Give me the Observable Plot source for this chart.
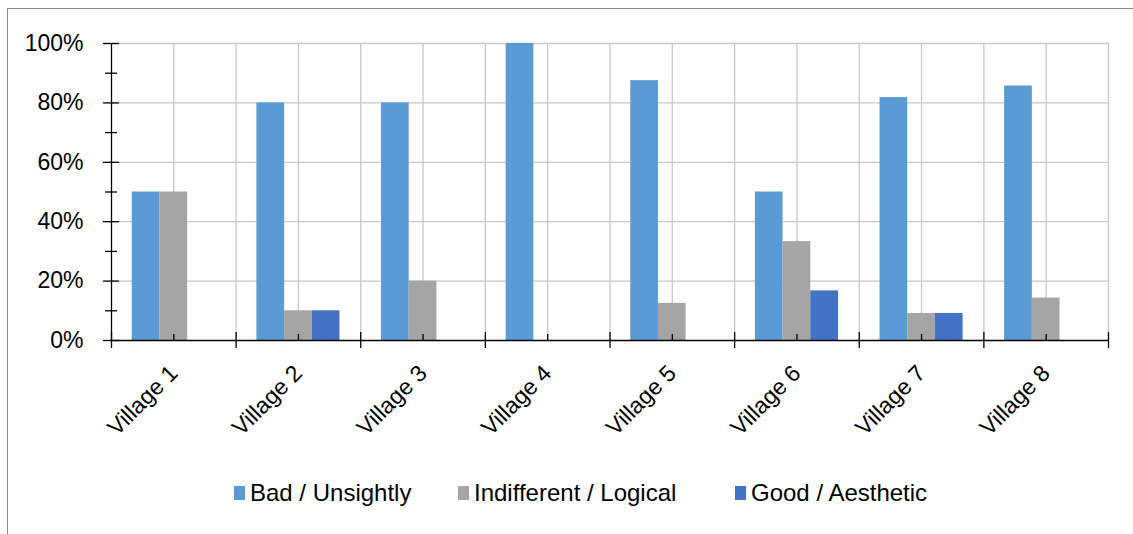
<!DOCTYPE html>
<html>
<head>
<meta charset="utf-8">
<script src="https://cdn.jsdelivr.net/npm/d3@7"></script>
<script src="https://cdn.jsdelivr.net/npm/@observablehq/plot@0.6"></script>
<style>
  html, body { margin: 0; padding: 0; background: #fff; }
  #wrap { position: relative; width: 1133px; height: 534px; overflow: hidden; font-family: "Liberation Sans", Arial, sans-serif; color: #000; }
  #border { position: absolute; left: 7px; top: 8px; width: 1300px; height: 700px; border-top: 1.5px solid #8e8e8e; border-left: 1.5px solid #8e8e8e; box-sizing: border-box; }
  #chart { position: absolute; left: 0; top: 0; }
  #legend { position: absolute; left: 0; top: 478px; width: 1133px; height: 30px; font-size: 24px; }
  .item { position: absolute; top: 0; display: flex; align-items: center; height: 30px; white-space: nowrap; }
  .sw { width: 11px; height: 14px; margin-right: 5px; }
</style>
</head>
<body>
<div id="wrap">
  <div id="border"></div>
  <div id="chart"></div>
  <div id="legend"></div>
</div>
<script>
// ---- data ----
const villages = ["Village 1", "Village 2", "Village 3", "Village 4", "Village 5", "Village 6", "Village 7", "Village 8"];
const bad         = [0.50, 0.80, 0.80, 1.00, 0.875, 0.50, 0.818, 0.857];
const indifferent = [0.50, 0.10, 0.20, 0.00, 0.125, 0.333, 0.091, 0.143];
const good        = [0.00, 0.10, 0.00, 0.00, 0.000, 0.167, 0.091, 0.000];
const seriesNames = ["Bad / Unsightly", "Indifferent / Logical", "Good / Aesthetic"];
const seriesColors = ["#5B9BD5", "#A5A5A5", "#4472C4"];
const yTicks = [0, 0.2, 0.4, 0.6, 0.8, 1.0];
const yMinorTicks = [0.1, 0.3, 0.5, 0.7, 0.9];
const legendLeft = [234, 458, 735];

// ---- table ----
const seriesValues = [bad, indifferent, good];
const rows = villages.flatMap((v, i) => seriesValues.map((arr, j) => ({i, j, village: v, series: seriesNames[j], value: arr[i]})));
const gapWidth = 1.5;                 // cluster gap as a share of one bar width
const w = 1 / (seriesNames.length + gapWidth);
const barX1 = d => d.i + gapWidth * w / 2 + d.j * w;
const barX2 = d => barX1(d) + w;

const boundaries = d3.range(0, villages.length + 1);
const centers = villages.map((v, i) => i + 0.5);
const vGrid = d3.range(0.5, villages.length + 0.01, 0.5);

const chart = Plot.plot({
  width: 1133,
  height: 460,
  marginLeft: 111,
  marginRight: 25,
  marginTop: 43,
  marginBottom: 120,
  x: {domain: [0, villages.length]},
  y: {domain: [0, 1]},
  color: {domain: seriesNames, range: seriesColors},
  style: {fontFamily: "'Liberation Sans', Arial, sans-serif", fontSize: "23px", color: "#000", background: "transparent"},
  marks: [
    Plot.ruleY(yTicks.slice(1), {stroke: "#c8c8c8", strokeWidth: 1.3}),
    Plot.ruleX(vGrid, {stroke: "#c8c8c8", strokeWidth: 1.3}),
    Plot.rectY(rows.filter(d => d.value > 0), {x1: barX1, x2: barX2, y: "value", fill: "series"}),
    Plot.ruleY([0], {stroke: "#000", strokeWidth: 1.3}),
    Plot.ruleX([0], {stroke: "#000", strokeWidth: 1.3}),
    Plot.axisY({ticks: yTicks, tickSize: 16, dx: 8, tickPadding: 20, tickFormat: d3.format(".0%"), label: null, fontSize: 23, strokeWidth: 1.3}),
    Plot.axisY({ticks: yMinorTicks, tickSize: 12, dx: 6, tickFormat: () => "", label: null, strokeWidth: 1.3}),
    Plot.axisX({ticks: boundaries, tickSize: 16, dy: -8, tickFormat: () => "", label: null, strokeWidth: 1.3}),
    Plot.axisX({ticks: centers, tickSize: 6, dy: -6, tickFormat: () => "", label: null, strokeWidth: 1.3}),
    Plot.axisX({ticks: centers, tickSize: 0, tickRotate: -45, tickPadding: 29, tickFormat: c => villages[Math.floor(c)], label: null, fontSize: 23})
  ]
});
document.getElementById("chart").appendChild(chart);

// ---- legend ----
const legend = d3.select("#legend");
seriesNames.forEach((name, k) => {
  const item = legend.append("div").attr("class", "item").style("left", legendLeft[k] + "px");
  item.append("div").attr("class", "sw").style("background", seriesColors[k]);
  item.append("span").text(name);
});
</script>
</body>
</html>
